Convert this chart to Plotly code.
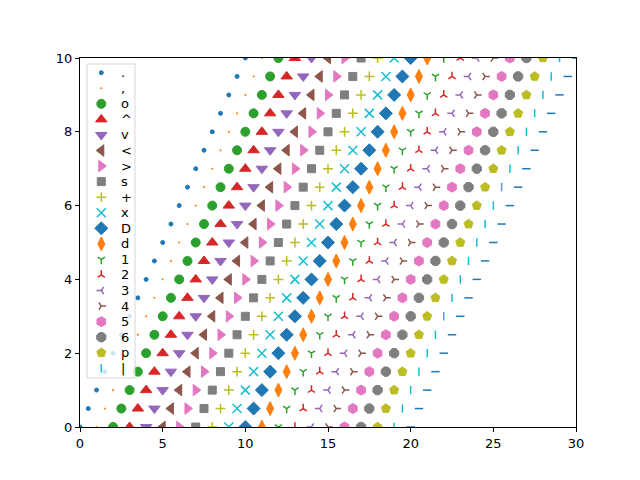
import plotly.graph_objects as go

# y positions shared by every marker series
y_values = [0.0, 0.5, 1.0, 1.5, 2.0, 2.5, 3.0, 3.5, 4.0, 4.5, 5.0,
            5.5, 6.0, 6.5, 7.0, 7.5, 8.0, 8.5, 9.0, 9.5, 10.0]

# marker codes (legend labels) and their horizontal offsets
labels = ['.', ',', 'o', '^', 'v', '<', '>', 's', '+', 'x', 'D',
          'd', '1', '2', '3', '4', '5', '6', 'p', '|', '_']
offsets = [0, 1, 2, 3, 4, 5, 6, 7, 8, 9, 10,
           11, 12, 13, 14, 15, 16, 17, 18, 19, 20]

x_ticks = [0, 5, 10, 15, 20, 25, 30]
y_ticks = [0, 2, 4, 6, 8, 10]

symbols = ['circle', 'square', 'circle', 'triangle-up', 'triangle-down',
           'triangle-left', 'triangle-right', 'square', 'cross-thin-open',
           'x-thin-open', 'diamond', 'diamond-tall', 'y-down-open', 'y-up-open',
           'y-left-open', 'y-right-open', 'hexagon', 'octagon', 'pentagon',
           'line-ns-open', 'line-ew-open']
sizes = [4, 1, 9, 10, 10, 10, 10, 8, 7, 9, 10, 10, 6, 6, 6, 6,
         10, 10, 9.5, 6, 6]
edge_w = [1, 1, 1, 1, 1, 1, 1, 1, 1.5, 1.5, 1, 1, 1.5, 1.5, 1.5, 1.5,
          1, 1, 1, 1.5, 1.5]

palette = ['#1f77b4', '#ff7f0e', '#2ca02c', '#d62728', '#9467bd',
           '#8c564b', '#e377c2', '#7f7f7f', '#bcbd22', '#17becf']

fig = go.Figure()
for i, lab in enumerate(labels):
    color = palette[i % len(palette)]
    xs = [y + offsets[i] for y in y_values]
    fig.add_trace(go.Scatter(
        x=xs, y=y_values, mode='markers', name=lab, showlegend=False,
        marker=dict(symbol=symbols[i], size=sizes[i], color=color,
                    line=dict(color=color, width=edge_w[i])),
    ))

# ---- matplotlib-style legend drawn on a pixel-scaled overlay axis ----
# overlay axis spans the plot area: x2 in px from left edge, y2 in px from top
PLOT_W, PLOT_H = 496, 369
box_x0, box_x1, box_y0, box_y1 = 7, 55, 6, 320
fig.add_trace(go.Scatter(
    x=[box_x0, box_x1, box_x1, box_x0, box_x0],
    y=[box_y0, box_y0, box_y1, box_y1, box_y0],
    xaxis='x2', yaxis='y2', mode='lines', fill='toself',
    fillcolor='rgba(255,255,255,0.8)',
    line=dict(color='rgba(204,204,204,0.8)', width=1),
    hoverinfo='skip', showlegend=False))

row0, row_step = 14.7, 15.56
mk_x, txt_x = 21.3, 38.5
k = 0
for i, lab in enumerate(labels):
    if lab.startswith('_'):
        continue
    color = palette[i % len(palette)]
    ry = row0 + row_step * k
    fig.add_trace(go.Scatter(
        x=[mk_x], y=[ry], xaxis='x2', yaxis='y2', mode='markers',
        marker=dict(symbol=symbols[i], size=sizes[i], color=color,
                    line=dict(color=color, width=edge_w[i])),
        hoverinfo='skip', showlegend=False))
    fig.add_annotation(x=txt_x, y=ry, xref='x2', yref='y2', text=lab,
                       showarrow=False, xanchor='left', yanchor='middle',
                       font=dict(family='DejaVu Sans', size=13, color='black'))
    k += 1

axis_common = dict(showline=True, linecolor='black', linewidth=1, mirror=True,
                   ticks='outside', ticklen=4, tickcolor='black',
                   showgrid=False, zeroline=False,
                   tickfont=dict(family='DejaVu Sans', size=13, color='black'))

fig.update_layout(
    width=640, height=480,
    paper_bgcolor='white', plot_bgcolor='white',
    margin=dict(l=72, r=72, t=50, b=61),
    xaxis=dict(range=[0, 30], tickvals=x_ticks, **axis_common),
    yaxis=dict(range=[0, 10], tickvals=y_ticks, **axis_common),
    xaxis2=dict(range=[0, PLOT_W], overlaying='x', anchor='y2', visible=False,
                fixedrange=True),
    yaxis2=dict(range=[PLOT_H, 0], overlaying='y', anchor='x2', visible=False,
                fixedrange=True),
    showlegend=False,
)

fig.write_html("out.html")
